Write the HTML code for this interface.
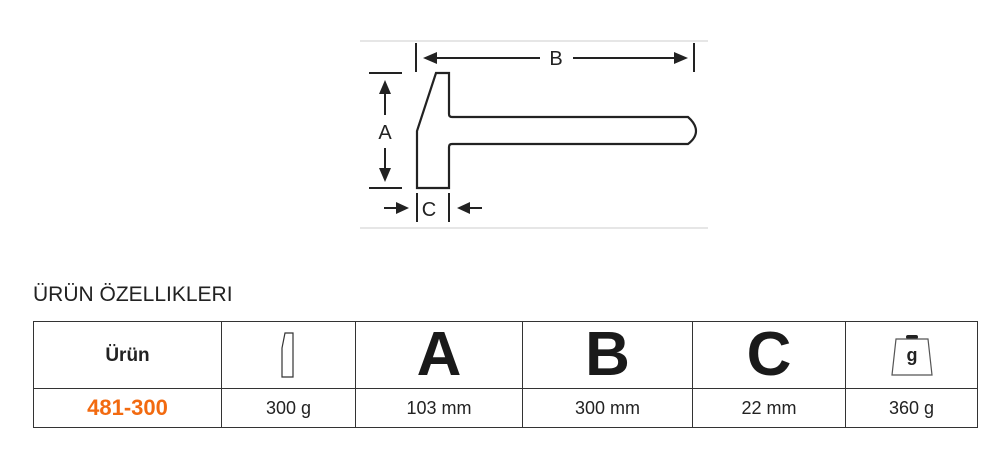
<!DOCTYPE html>
<html><head><meta charset="utf-8"><style>
body{margin:0;width:1000px;height:449px;background:#fff;font-family:"Liberation Sans",Arial,sans-serif;position:relative;overflow:hidden}
.t{position:absolute;left:33px;top:283px;font-size:21px;color:#222}
table{position:absolute;left:33px;top:321px;border-collapse:collapse;width:945px}
td{border:1.3px solid #333;text-align:center;padding:0;font-size:18px;color:#222;line-height:1}
tr.h td{height:66px}
tr.v td{height:38px}
.big{font-size:62px;font-weight:bold;color:#1a1a1a;line-height:50px}
svg.i{display:block;margin:0 auto}
</style></head><body>
<svg width="1000" height="240" style="position:absolute;left:0;top:0">
<line x1="360" y1="41" x2="708" y2="41" stroke="#ddd" stroke-width="1.5"/>
<line x1="360" y1="228" x2="708" y2="228" stroke="#ddd" stroke-width="1.5"/>
<g stroke="#222" stroke-width="2" fill="none">
<line x1="416" y1="43" x2="416" y2="72"/><line x1="694" y1="43" x2="694" y2="72"/>
<line x1="428" y1="58" x2="540" y2="58"/><line x1="573" y1="58" x2="682" y2="58"/>
<line x1="369" y1="73" x2="402" y2="73"/><line x1="369" y1="188" x2="402" y2="188"/>
<line x1="385" y1="92" x2="385" y2="115"/><line x1="385" y1="148" x2="385" y2="170"/>
<line x1="417" y1="193" x2="417" y2="222"/><line x1="449" y1="193" x2="449" y2="222"/>
<line x1="384" y1="208" x2="402" y2="208"/><line x1="464" y1="208" x2="482" y2="208"/>
<path d="M436 73 H449 V114 Q449 117 452 117 H688 Q696 124 696 131 Q696 138 688 144 H452 Q449 144 449 147 V188 H417 V131 Z" stroke-width="2.2"/>
</g>
<g fill="#222">
<polygon points="423,58 437,52 437,64"/><polygon points="688,58 674,52 674,64"/>
<polygon points="385,80 379,94 391,94"/><polygon points="385,182 379,168 391,168"/>
<polygon points="409,208 396,202 396,214"/><polygon points="457,208 470,202 470,214"/>
</g>
<g font-family="Liberation Sans,Arial,sans-serif" font-size="20" fill="#222" text-anchor="middle">
<text x="556" y="65">B</text><text x="385" y="139">A</text><text x="429" y="216">C</text>
</g>
</svg>
<div class="t">ÜRÜN ÖZELLIKLERI</div>
<table>
<tr class="h">
<td style="width:187px;font-weight:bold;font-size:19px">Ürün</td>
<td style="width:133px"><svg class="i" width="22" height="50" viewBox="0 0 22 50"><path d="M7 3 H15 V47 H4 V18 Z" fill="none" stroke="#333" stroke-width="1.2"/></svg></td>
<td style="width:166px" class="big">A</td>
<td style="width:169px" class="big">B</td>
<td style="width:152px" class="big">C</td>
<td><svg class="i" width="48" height="50" viewBox="0 0 48 50"><rect x="18" y="5" width="12" height="4" rx="2" fill="#222"/><path d="M8 9 H40 L44 45 H4 Z" fill="none" stroke="#555" stroke-width="1.2"/><text x="24" y="31" font-size="18" font-weight="bold" text-anchor="middle" font-family="Liberation Sans,Arial,sans-serif" fill="#222">g</text></svg></td>
</tr>
<tr class="v">
<td style="color:#f26a10;font-weight:bold;font-size:22px">481-300</td>
<td>300 g</td><td>103 mm</td><td>300 mm</td><td>22 mm</td><td>360 g</td>
</tr>
</table>
</body></html>
